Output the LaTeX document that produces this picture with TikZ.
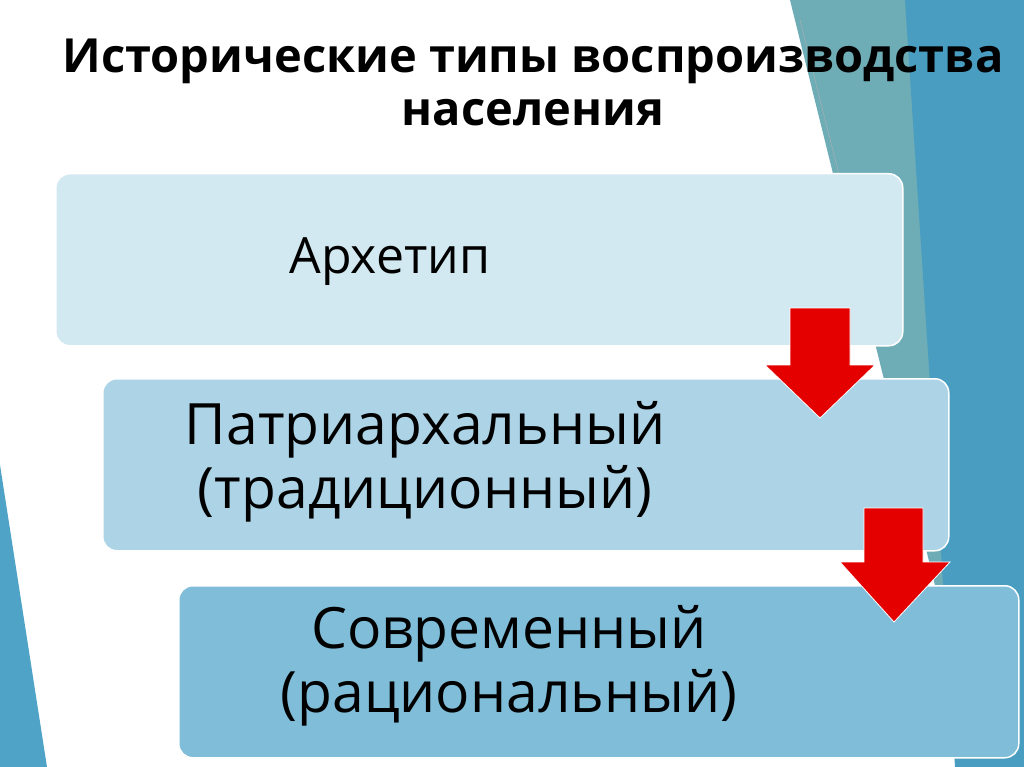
\documentclass[tikz,border=0pt]{standalone}
\usepackage{fontspec}
\setmainfont{Open Sans}
\begin{document}
\begin{tikzpicture}[x=1pt,y=-1pt,
  boxst/.style={draw=white,line width=1.5pt,rounded corners=14pt},
  arr/.style={fill=red!90!black,draw=white,line width=0.8pt},
  txt/.style={font=\fontsize{57}{64}\selectfont,align=center,text=black}]
\useasboundingbox (0,0) rectangle (1024,767);
\fill[white] (0,0) rectangle (1024,767);
\fill[color={rgb,255:red,79;green,163;blue,199}] (0,465) -- (47,767) -- (0,767) -- cycle;
\fill[color={rgb,255:red,110;green,172;blue,182}] (790,0) -- (1024,0) -- (1024,767) -- (980,767) -- cycle;
\fill[color={rgb,255:red,72;green,157;blue,192}] (905,0) -- (1024,0) -- (1024,767) -- (955,767) -- cycle;
\draw[gray!60] (800,20) -- (858,250);
\node[font=\bfseries\fontsize{47}{53}\selectfont,align=center] (title) at (533,82) {Исторические типы воспроизводства\\населения};
\node[boxst,fill={rgb,255:red,211;green,233;blue,241},minimum width=847pt,minimum height=172pt,anchor=north west] (b1) at (55,173) {};
\node[boxst,fill={rgb,255:red,172;green,212;blue,230},minimum width=846pt,minimum height=172pt,anchor=north west] (b2) at (102,378) {};
\node[boxst,fill={rgb,255:red,127;green,189;blue,217},minimum width=840pt,minimum height=172pt,anchor=north west] (b3) at (178,585) {};
\node[font=\fontsize{50}{56}\selectfont] (t1) at (390,262) {Архетип};
\node[txt] (t2) at (425,462) {Патриархальный\\(традиционный)};
\node[txt] (t3) at (509,666) {Современный\\(рациональный)};
\draw[arr] (790,308) -- (850,308) -- (850,365) -- (875,365) -- (820,418) -- (765,365) -- (790,365) -- cycle;
\draw[arr] (864,508) -- (923,508) -- (923,562) -- (950,562) -- (894,622) -- (840,562) -- (864,562) -- cycle;
\end{tikzpicture}
\end{document}
